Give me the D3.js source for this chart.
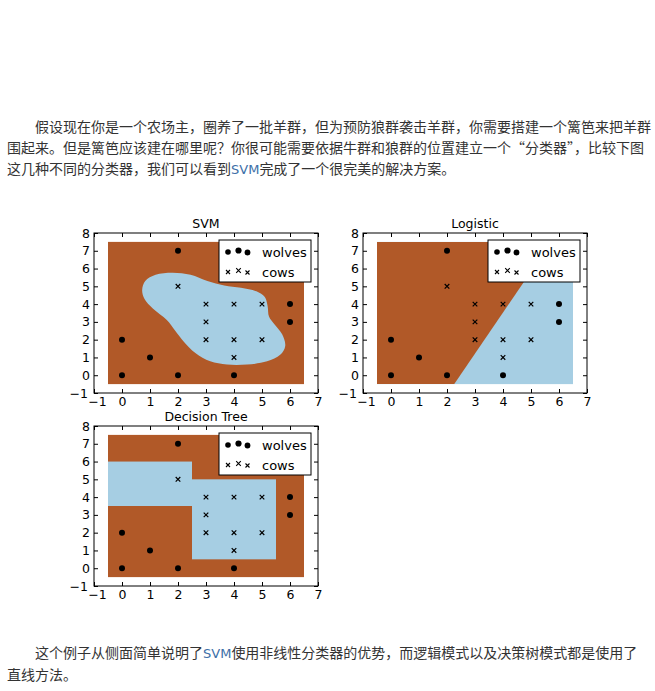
<!DOCTYPE html>
<html><head><meta charset="utf-8">
<script src="https://cdn.jsdelivr.net/npm/d3@7"></script>
<style>
html,body{margin:0;padding:0;background:#fff;}
svg{display:block;}
</style></head>
<body>
<script>
// ---- data ----
const wolvesX = [0, 1, 0, 2, 2, 4, 6, 6];
const wolvesY = [0, 1, 2, 0, 7, 0, 4, 3];
const cowsX = [2, 3, 4, 5, 3, 3, 4, 5, 4];
const cowsY = [5, 4, 4, 4, 3, 2, 2, 2, 1];
const xTicks = [-1, 0, 1, 2, 3, 4, 5, 6, 7];
const yTicks = [-1, 0, 1, 2, 3, 4, 5, 6, 7, 8];
const panelTitles = ["SVM", "Logistic", "Decision Tree"];
const legendLabels = ["wolves", "cows"];
const regionX = [-0.5, 6.5];
const regionY = [-0.5, 7.5];
// SVM "cow" region outline (data coords)
const svmBoundaryX = [0.72,0.83,1.2,1.8,2.45,3.05,3.65,4.25,4.8,5.1,5.2,5.25,5.45,5.72,5.83,5.65,5.18,4.46,3.75,3.15,2.62,2.2,1.9,1.6,1.1,0.8];
const svmBoundaryY = [4.8,5.3,5.65,5.77,5.65,5.3,5.05,4.92,4.72,4.4,3.9,3.3,2.85,2.3,1.65,1.15,0.78,0.6,0.6,0.78,1.25,1.9,2.5,3.1,3.75,4.3];
// Logistic "wolf" region (data coords)
const logisticWolfX = [-0.5, 2.26, 5.72, -0.5];
const logisticWolfY = [-0.5, -0.5, 7.5, 7.5];
// Decision tree "cow" rectangles [x0, y0, x1, y1]
const treeCowX0 = [-0.5, 2.5];
const treeCowY0 = [3.5, 0.5];
const treeCowX1 = [2.5, 5.5];
const treeCowY1 = [6, 5];
const paraTop = [
  "假设现在你是一个农场主，圈养了一批羊群，但为预防狼群袭击羊群，你需要搭建一个篱笆来把羊群",
  "围起来。但是篱笆应该建在哪里呢？你很可能需要依据牛群和狼群的位置建立一个“分类器”，比较下图",
  ["这几种不同的分类器，我们可以看到", "SVM", "完成了一个很完美的解决方案。"]
];
const paraBottom = [
  ["这个例子从侧面简单说明了", "SVM", "使用非线性分类器的优势，而逻辑模式以及决策树模式都是使用了"],
  "直线方法。"
];

// ---- drawing ----
const W = 655, H = 691;
const BROWN = "#b15928", BLUE = "#a6cee3";
const svg = d3.select("body").append("svg").attr("width", W).attr("height", H);

// paragraphs
const cjk = "'Noto Sans CJK SC', sans-serif";
function para(lines, x0s, ys) {
  lines.forEach((ln, i) => {
    const t = svg.append("text").attr("x", x0s[i]).attr("y", ys[i])
      .attr("font-family", cjk).attr("font-size", 14).attr("fill", "#333");
    const parts = Array.isArray(ln) ? ln : [ln];
    parts.forEach(p => {
      t.append("tspan").text(p)
        .attr("fill", p === "SVM" ? "#3d6fa8" : "#333")
        .attr("font-family", p === "SVM" ? "'DejaVu Sans', sans-serif" : cjk)
        .attr("font-size", p === "SVM" ? 13 : 14);
    });
  });
}
para(paraTop, [35, 7, 7], [132, 153, 174]);
para(paraBottom, [35, 7], [658, 680]);

const panels = [
  {x: 94, y: 233},
  {x: 363, y: 233},
  {x: 94, y: 426}
];
const PW = 224, PH = 160;
const FONT = "'DejaVu Sans', sans-serif";

panels.forEach((p, pi) => {
  const g = svg.append("g").attr("transform", `translate(${p.x},${p.y})`);
  const x = d3.scaleLinear().domain([-1, 7]).range([0, PW]);
  const y = d3.scaleLinear().domain([-1, 8]).range([PH, 0]);

  // background region
  const bgColor = pi === 1 ? BLUE : BROWN;
  g.append("rect")
    .attr("x", x(regionX[0])).attr("y", y(regionY[1]))
    .attr("width", x(regionX[1]) - x(regionX[0]))
    .attr("height", y(regionY[0]) - y(regionY[1]))
    .attr("fill", bgColor);

  if (pi === 0) {
    const pts = svmBoundaryX.map((v, i) => [x(v), y(svmBoundaryY[i])]);
    g.append("path")
      .attr("d", d3.line().curve(d3.curveCatmullRomClosed.alpha(0.5))(pts))
      .attr("fill", BLUE);
  } else if (pi === 1) {
    const pts = logisticWolfX.map((v, i) => [x(v), y(logisticWolfY[i])]);
    g.append("path").attr("d", d3.line()(pts) + "Z").attr("fill", BROWN);
  } else {
    treeCowX0.forEach((v, i) => {
      g.append("rect")
        .attr("x", x(v)).attr("y", y(treeCowY1[i]))
        .attr("width", x(treeCowX1[i]) - x(v))
        .attr("height", y(treeCowY0[i]) - y(treeCowY1[i]))
        .attr("fill", BLUE);
    });
  }

  // axes (inward ticks on all sides)
  const fmt = d => d < 0 ? "\u2212" + Math.abs(d) : String(d);
  const ax = [
    {a: d3.axisBottom(x).tickValues(xTicks).tickFormat(fmt).tickPadding(4), t: `translate(0,${PH})`, k: "b"},
    {a: d3.axisTop(x).tickValues(xTicks).tickFormat("").tickPadding(4), t: `translate(0,0)`, k: "t"},
    {a: d3.axisLeft(y).tickValues(yTicks).tickFormat(fmt).tickPadding(4), t: `translate(0,0)`, k: "l"},
    {a: d3.axisRight(y).tickValues(yTicks).tickFormat("").tickPadding(4), t: `translate(${PW},0)`, k: "r"}
  ];
  ax.forEach(o => {
    const ag = g.append("g").attr("transform", o.t)
      .call(o.a.tickSizeInner(-4).tickSizeOuter(0));
    ag.select(".domain").remove();
    ag.selectAll("line").attr("stroke", "#000");
    ag.selectAll("text").attr("font-family", FONT).attr("font-size", 12.5).attr("fill", "#000");
    // keep the two corner "−1" labels from colliding
    if (o.k === "b") ag.selectAll(".tick").filter(d => d === -1).select("text").attr("dx", 3);
    if (o.k === "l") ag.selectAll(".tick").filter(d => d === -1).select("text").attr("dx", -2);
  });

  // frame
  g.append("rect").attr("x", 0).attr("y", 0).attr("width", PW).attr("height", PH)
    .attr("fill", "none").attr("stroke", "#000").attr("stroke-width", 1);

  // title
  g.append("text").attr("x", PW / 2).attr("y", -5).attr("text-anchor", "middle")
    .attr("font-family", FONT).attr("font-size", 12.5).attr("fill", "#000")
    .text(panelTitles[pi]);

  // points
  g.selectAll("circle.w").data(wolvesX).enter().append("circle")
    .attr("cx", (d) => x(d)).attr("cy", (d, i) => y(wolvesY[i])).attr("r", 3).attr("fill", "#000");
  const cross = (cx, cy, s) => `M${cx - s},${cy - s}L${cx + s},${cy + s}M${cx - s},${cy + s}L${cx + s},${cy - s}`;
  g.selectAll("path.c").data(cowsX).enter().append("path")
    .attr("d", (d, i) => cross(x(d), y(cowsY[i]), 2.3))
    .attr("stroke", "#000").attr("stroke-width", 1.2).attr("fill", "none");

  // legend
  const lw = 92, lh = 42;
  const lg = g.append("g").attr("transform", `translate(${PW - 7 - lw},7)`);
  lg.append("rect").attr("width", lw).attr("height", lh).attr("fill", "#fff")
    .attr("stroke", "#000").attr("stroke-width", 1);
  const mx = [9, 19.5, 28.5], my = [12, 10.5, 12.5], mr = [2.8, 3.1, 2.9];
  mx.forEach((v, i) => {
    lg.append("circle").attr("cx", v).attr("cy", my[i]).attr("r", mr[i]).attr("fill", "#000");
    lg.append("path").attr("d", cross(v, my[i] + 20, 2 + (i === 1 ? 0.3 : 0)))
      .attr("stroke", "#000").attr("stroke-width", 1.1);
  });
  legendLabels.forEach((l, i) => {
    lg.append("text").attr("x", 43).attr("y", 16.5 + i * 20)
      .attr("font-family", FONT).attr("font-size", 13).attr("fill", "#000").text(l);
  });
});
</script>
</body></html>
